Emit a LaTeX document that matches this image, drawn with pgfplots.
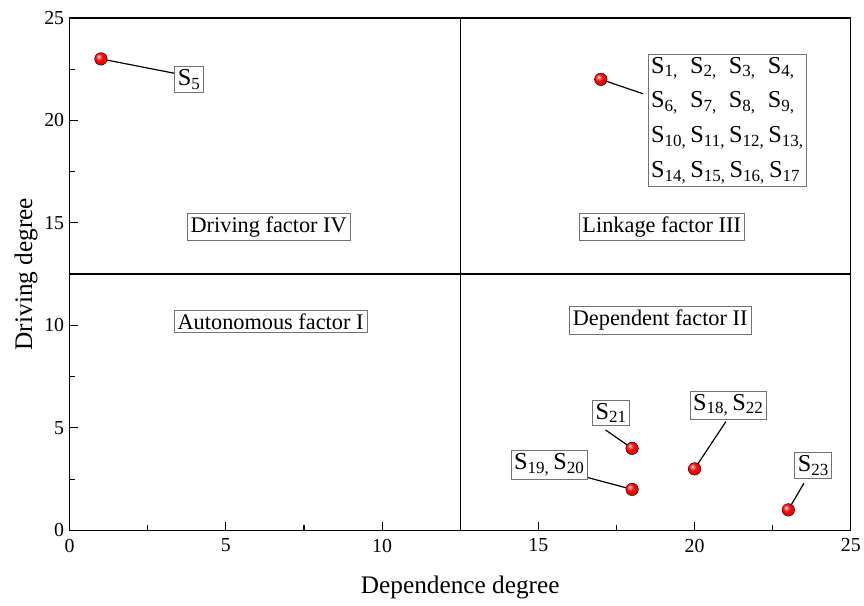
\documentclass[border=0pt]{standalone}
\usepackage{pgfplots}
\pgfplotsset{compat=1.18}
\usepackage{fontspec}
\setmainfont{Liberation Serif}

% brighter glossy ball for the markers
\makeatletter
\pgfdeclareradialshading[tikz@ball]{ball}{\pgfqpoint{-10bp}{10bp}}{%
  color(0bp)=(white);
  color(6bp)=(tikz@ball!55!white);
  color(15bp)=(tikz@ball);
  color(36bp)=(tikz@ball!92!black);
  color(50bp)=(tikz@ball!65!black);
  color(62bp)=(tikz@ball!45!black)}
\makeatother

\pgfplotstableread{
x  y
1  23
17 22
18 4
18 2
20 3
23 1
}\factors

\begin{document}
\begin{tikzpicture}[
  lbl/.style={draw=black!55, fill=white, line width=0.7pt, inner sep=3pt,
              font=\fontsize{24.5}{29}\selectfont},
  quad/.style={draw=black!55, fill=white, line width=0.7pt, inner sep=3.5pt,
              font=\fontsize{22.5}{27}\selectfont},
  lead/.style={black, line width=1.2pt}
]
\begin{axis}[
  scale only axis,
  width=785bp, height=515bp,
  xmin=0, xmax=25, ymin=0, ymax=25,
  xtick={0,5,...,25}, ytick={0,5,...,25},
  minor x tick num=1, minor y tick num=1,
  xtick pos=left, ytick pos=left,
  tick align=inside,
  major tick length=8bp, minor tick length=5bp,
  axis line style={line width=1.4pt},
  every tick/.style={black, line width=1.2pt},
  tick label style={font=\fontsize{20}{24}\selectfont},
  xticklabel style={yshift=-5bp},
  yticklabel style={xshift=-2bp},
  /pgf/number format/assume math mode=true,
  xlabel={Dependence degree}, ylabel={Driving degree},
  label style={font=\fontsize{25.5}{30}\selectfont},
  xlabel style={yshift=-17bp},
  ylabel style={yshift=0bp},
  clip=false,
]
% margins around the frame
\path (rel axis cs:1,1) ++(9bp,18bp);
\path (rel axis cs:0,0) ++(-70bp,-75bp);

% quadrant dividers
\draw[line width=1.4pt] (axis cs:12.5,0) -- (axis cs:12.5,25);
\draw[line width=1.4pt] (axis cs:0,12.5) -- (axis cs:25,12.5);

% quadrant names
\node[quad] at (axis cs:6.37,14.8) {Driving factor IV};
\node[quad] at (axis cs:18.95,14.8) {Linkage factor III};
\node[quad] at (axis cs:6.43,10.2) {Autonomous factor I};
\node[quad] at (axis cs:18.9,10.24) {Dependent factor II};

% leader lines
\draw[lead] (axis cs:1,23) -- (axis cs:3.35,22.3);
\draw[lead] (axis cs:17,22) -- (axis cs:18.35,21.3);
\draw[lead] (axis cs:18,4) -- (axis cs:17.15,4.9);
\draw[lead] (axis cs:18,2) -- (axis cs:16.4,2.65);
\draw[lead] (axis cs:20,3) -- (axis cs:21,5.3);
\draw[lead] (axis cs:23,1) -- (axis cs:23.5,2.3);

% element labels
\node[lbl] at (axis cs:3.82,22.0) {S\textsubscript{5}};
\node[lbl, align=left, font=\fontsize{24.5}{35}\selectfont] at (axis cs:21.05,20.0)
  {S\textsubscript{1,}\ \ S\textsubscript{2,}\ \ S\textsubscript{3,}\ \ S\textsubscript{4,}\\
   S\textsubscript{6,}\ \ S\textsubscript{7,}\ \ S\textsubscript{8,}\ \ S\textsubscript{9,}\\
   S\textsubscript{10,}\,S\textsubscript{11,}\,S\textsubscript{12,}\,S\textsubscript{13,}\\
   S\textsubscript{14,}\,S\textsubscript{15,}\,S\textsubscript{16,}\,S\textsubscript{17}};
\node[lbl] at (axis cs:17.33,5.73) {S\textsubscript{21}};
\node[lbl] at (axis cs:15.35,3.2) {S\textsubscript{19,}\,S\textsubscript{20}};
\node[lbl] at (axis cs:21.08,6.1) {S\textsubscript{18,}\,S\textsubscript{22}};
\node[lbl] at (axis cs:23.8,3.16) {S\textsubscript{23}};

\addplot[only marks, mark=ball, mark size=6.3bp, ball color=red] table {\factors};
\end{axis}
\end{tikzpicture}
\end{document}
